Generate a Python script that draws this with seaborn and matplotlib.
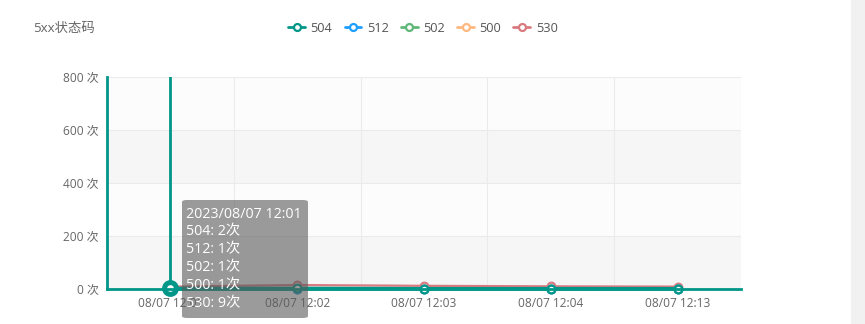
import matplotlib
matplotlib.use("Agg")
import matplotlib.pyplot as plt
import seaborn as sns
import pandas as pd
import numpy as np
from matplotlib.lines import Line2D
from matplotlib.patches import FancyBboxPatch, Rectangle

# ---- data ----
categories = ["08/07 12:01", "08/07 12:02", "08/07 12:03", "08/07 12:04", "08/07 12:13"]
series_names = ["504", "512", "502", "500", "530"]
v504 = [2, 2, 1, 1, 1]
v512 = [1, 1, 1, 1, 1]
v502 = [1, 1, 1, 1, 1]
v500 = [1, 1, 1, 1, 1]
v530 = [9, 15, 12, 10, 9]
y_ticks = [0, 200, 400, 600, 800]
y_tick_labels = ["0 次", "200 次", "400 次", "600 次", "800 次"]
title = "5xx状态码"
tooltip_lines = ["2023/08/07 12:01", "504: 2次", "512: 1次", "502: 1次", "500: 1次", "530: 9次"]

colors = ["#009688", "#1E9FFF", "#5FB878", "#FFB980", "#D87A80"]
values = [v504, v512, v502, v500, v530]

rows = []
for name, vals in zip(series_names, values):
    for i, v in enumerate(vals):
        rows.append({"x": i, "y": v, "series": name})
df = pd.DataFrame(rows)

sns.set_theme(style="white")
plt.rcParams["font.family"] = ["Open Sans", "Noto Sans CJK SC", "DejaVu Sans"]

W, H = 865, 324
fig = plt.figure(figsize=(W / 100, H / 100), dpi=100)
fig.patch.set_facecolor("white")
ax = fig.add_axes([107 / W, (H - 289) / H, (741 - 107) / W, (289 - 77) / H])
ax.set_facecolor("white")

ax.set_xlim(-0.5, len(categories) - 0.5)
ax.set_ylim(0, 800)
band_cols = ["#f6f6f6", "#fcfcfc"]
for k in range(4):
    ax.axhspan(y_ticks[k], y_ticks[k + 1], color=band_cols[k % 2], zorder=0, lw=0)
for yv in y_ticks[1:]:
    ax.axhline(yv, color="#ebebeb", lw=0.8, zorder=0.5)
for k in range(1, len(categories) + 1):
    ax.axvline(k - 0.5, color="#ebebeb", lw=0.8, zorder=0.5)

order = series_names[::-1]
palette = dict(zip(series_names, colors))
for name in order:
    sub = df[df["series"] == name]
    lw = 2.6 if name == "504" else 1.6
    sns.lineplot(data=sub, x="x", y="y", color=palette[name], lw=lw, ax=ax,
                 marker="o", markersize=5.5, markerfacecolor="white",
                 markeredgecolor=palette[name], markeredgewidth=1.6,
                 legend=False, zorder=3 if name != "504" else 4, clip_on=False)

# emphasized point
ax.plot([0], [v504[0]], marker="o", markersize=8.5, markerfacecolor="white",
        markeredgecolor=colors[0], markeredgewidth=3.6, zorder=6, clip_on=False)

# axis pointer
ax.axvline(0, color=colors[0], lw=2, zorder=5)

for s in ["top", "right"]:
    ax.spines[s].set_visible(False)
for s in ["left", "bottom"]:
    ax.spines[s].set_color(colors[0])
    ax.spines[s].set_linewidth(2)
    ax.spines[s].set_zorder(7)

ax.set_xticks(range(len(categories)))
ax.set_xticklabels(categories)
ax.set_yticks(y_ticks)
ax.set_yticklabels(y_tick_labels)
ax.tick_params(axis="both", length=0, labelsize=8.6, labelcolor="#666666", pad=6)
ax.set_xlabel("")
ax.set_ylabel("")

fig.text(33 / W, 1 - 28 / H, title, fontsize=9.6, color="#666666", va="center", ha="left")

handles = [Line2D([0], [0], color=c, lw=2, marker="o", markersize=5,
                  markerfacecolor="white", markeredgecolor=c, markeredgewidth=1.6)
           for c in colors]
fig.legend(handles, series_names, loc="center", bbox_to_anchor=(423 / W, 1 - 28 / H),
           ncol=5, frameon=False, fontsize=9.2, labelcolor="#555555",
           handlelength=1.3, handletextpad=0.45, columnspacing=0.95)

box = FancyBboxPatch((182 / W, 1 - 318 / H), (308 - 182) / W, (318 - 200) / H,
                     boxstyle="round,pad=0,rounding_size=0.006",
                     transform=fig.transFigure, facecolor=(0.35, 0.35, 0.35, 0.6),
                     edgecolor="none", zorder=20)
fig.patches.append(box)
for i, line in enumerate(tooltip_lines):
    fig.text(186 / W, 1 - (214 + 18 * i) / H, line, fontsize=10.3, color="white",
             va="center", ha="left", zorder=21)

fig.patches.append(Rectangle((851 / W, 0), (W - 851) / W, 1, transform=fig.transFigure,
                             facecolor="#f1f1f1", edgecolor="none", zorder=1))

fig.savefig("out.png", dpi=100)
